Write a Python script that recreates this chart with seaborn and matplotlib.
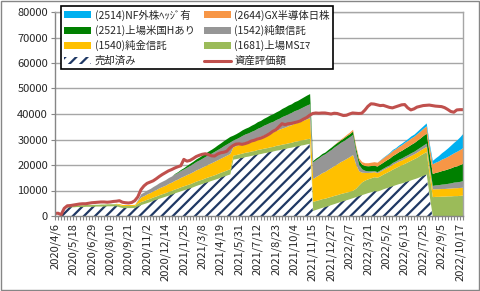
import numpy as np
import pandas as pd
import seaborn as sns
import matplotlib.pyplot as plt

# weekly valuation, 2020/4/6 - 2022/10/24
weeks = pd.date_range("2020-04-06", periods=134, freq="7D")

sold = [0, 0, 0, 3300, 3500, 3600, 3600, 3700, 3700, 3700,
        3800, 3800, 3800, 3900, 3900, 3900, 3900, 4000, 4000, 4000,
        4000, 3600, 3300, 3300, 3300, 3300, 3400, 4000, 4500, 4900,
        5300, 5700, 6200, 6600, 7000, 7400, 7800, 8200, 8600, 9100,
        9500, 9900, 10300, 10700, 11100, 11500, 12000, 12400, 12800, 13200,
        13600, 14000, 14400, 14800, 15300, 15700, 16100, 16500, 22300, 22500,
        22800, 23000, 23300, 23500, 23800, 24000, 24300, 24500, 24800, 25000,
        25300, 25500, 25800, 26000, 26300, 26500, 26800, 27000, 27300, 27500,
        27800, 28000, 28300, 28500, 2200, 2600, 3000, 3400, 3700, 4100,
        4500, 4900, 5300, 5700, 6100, 6400, 6800, 7200, 7600, 8000,
        8400, 8800, 9200, 9500, 9900, 9800, 10200, 10700, 11100, 11500,
        11900, 12300, 12700, 13000, 13400, 13800, 14200, 14600, 15000, 15500,
        16000, 16500, 8000, 0, 0, 0, 0, 0, 0, 0,
        0, 0, 0, 0]

ms_emerging = [0, 0, 0, 400, 600, 600, 600, 600, 700, 700,
               700, 700, 700, 700, 700, 800, 800, 800, 800, 800,
               800, 800, 800, 800, 800, 800, 800, 1100, 1200, 1200,
               1300, 1300, 1300, 1300, 1400, 1400, 1400, 1500, 1500, 1500,
               1500, 1600, 1600, 1600, 1600, 1700, 1700, 1700, 1700, 1800,
               1800, 1800, 1800, 1900, 1900, 1900, 2000, 2000, 1600, 1600,
               1600, 1700, 1700, 1700, 1700, 1700, 1800, 1800, 1800, 1800,
               1800, 1800, 1900, 1900, 1900, 1900, 1900, 1900, 2000, 2000,
               2000, 2000, 2000, 2000, 3500, 3500, 3400, 3400, 3300, 3300,
               3200, 3200, 3100, 3100, 3000, 3000, 2900, 2900, 3300, 4200,
               5000, 5300, 5400, 5500, 5500, 5400, 5600, 5800, 6000, 6200,
               6500, 6700, 6900, 7100, 7300, 7500, 7700, 7900, 8100, 8400,
               8600, 8800, 8000, 7600, 7700, 7700, 7800, 7800, 7900, 7900,
               8000, 8000, 8100, 8200]

gold = [0, 0, 0, 0, 0, 0, 0, 0, 0, 0,
        0, 0, 0, 0, 0, 0, 0, 0, 0, 0,
        200, 400, 400, 400, 400, 400, 400, 1000, 1800, 1900,
        2100, 2200, 2400, 2500, 2700, 2800, 2900, 3100, 3200, 3400,
        3500, 3700, 3800, 4000, 4100, 4200, 4400, 4500, 4700, 4800,
        5000, 5100, 5300, 5400, 5500, 5700, 5800, 6000, 3300, 3500,
        3700, 3900, 4100, 4200, 4400, 4600, 4800, 5000, 5200, 5400,
        5600, 5700, 5900, 6100, 6300, 6500, 6700, 6900, 7100, 7200,
        7400, 7600, 7800, 8000, 9000, 9400, 9800, 10200, 10500, 10900,
        11300, 11700, 12100, 12500, 12800, 13200, 13600, 14000, 9500, 5500,
        3800, 3000, 2500, 2200, 2000, 1800, 1800, 1800, 1800, 1800,
        1900, 1900, 1900, 1900, 1900, 1900, 1900, 1900, 2000, 2000,
        2000, 2000, 2500, 3000, 3000, 3000, 3000, 3000, 3000, 3100,
        3100, 3100, 3100, 3100]

silver = [0, 0, 0, 0, 0, 0, 0, 0, 0, 0,
          0, 0, 0, 0, 0, 0, 0, 0, 0, 0,
          0, 0, 0, 0, 0, 0, 0, 500, 1300, 1400,
          1500, 1600, 1700, 1900, 2000, 2100, 2200, 2300, 2400, 2500,
          2600, 2700, 2800, 2900, 3100, 3200, 3300, 3400, 3500, 3600,
          3700, 3800, 3900, 4000, 4100, 4300, 4400, 4500, 2600, 2700,
          2800, 3000, 3100, 3200, 3300, 3400, 3500, 3600, 3800, 3900,
          4000, 4100, 4200, 4300, 4500, 4600, 4700, 4800, 4900, 5000,
          5100, 5300, 5400, 5500, 6500, 6600, 6700, 6800, 6900, 7000,
          7100, 7300, 7400, 7500, 7600, 7700, 7800, 7900, 5000, 2500,
          1300, 800, 600, 500, 400, 400, 500, 500, 600, 600,
          700, 700, 800, 800, 900, 900, 1000, 1000, 1100, 1100,
          1200, 1300, 1500, 1400, 1500, 1600, 1700, 1800, 1900, 2000,
          2200, 2300, 2400, 2600]

us_hedged = [0, 0, 0, 0, 0, 0, 0, 0, 0, 0,
             0, 0, 0, 0, 0, 0, 0, 0, 0, 0,
             0, 0, 0, 0, 0, 0, 0, 0, 0, 0,
             0, 0, 0, 0, 0, 0, 0, 0, 0, 200,
             300, 400, 500, 700, 800, 900, 1000, 1100, 1200, 1300,
             1400, 1500, 1600, 1800, 1900, 2000, 2100, 2200, 1900, 2000,
             2100, 2200, 2200, 2300, 2400, 2500, 2600, 2600, 2700, 2800,
             2900, 3000, 3000, 3100, 3200, 3300, 3400, 3400, 3500, 3600,
             3700, 3800, 3900, 4000, 500, 600, 600, 700, 700, 800,
             900, 900, 1000, 1000, 1100, 1200, 1200, 1300, 1500, 1700,
             1800, 1900, 2000, 2100, 2100, 2200, 2300, 2400, 2500, 2600,
             2700, 2800, 2900, 3000, 3100, 3200, 3300, 3400, 3500, 3600,
             3800, 3900, 4500, 4700, 4900, 5100, 5300, 5500, 5700, 5900,
             6100, 6300, 6600, 6800]

semicon = [0] * 90 + [
           0, 100, 200, 300, 400, 500, 600, 700, 800, 900,
           1000, 1100, 1200, 1300, 1400, 1500, 1600, 1700, 1800, 1900,
           2000, 2000, 2100, 2200, 2300, 2400, 2500, 2500, 2600, 2700,
           2800, 2900, 3000, 3800, 4000, 4200, 4500, 4700, 4900, 5200,
           5400, 5700, 5900, 6200]

nf_hedged = [0] * 106 + [
             100, 200, 200, 300,
             400, 400, 500, 600, 600, 700, 800, 800, 900, 1000,
             1000, 1100, 1000, 1300, 1700, 2100, 2500, 2900, 3300, 3700,
             4100, 4500, 5000, 5600]

asset_value = [1000, 1100, 500, 3000, 4000, 4100, 4300, 4500, 4700, 4800,
               4800, 5000, 5200, 5300, 5400, 5500, 5500, 5400, 5500, 5700,
               5800, 6000, 5400, 5200, 5100, 5300, 6000, 7500, 10300, 11800,
               12800, 13300, 13800, 14600, 15500, 16300, 17000, 17700, 18200, 18800,
               19300, 19700, 22200, 21500, 21800, 22500, 23300, 23800, 24200, 24400,
               24100, 23600, 23500, 24300, 24800, 25000, 25400, 26700, 27600, 28200,
               28300, 28100, 28400, 28800, 29400, 29700, 30200, 30500, 31000, 31600,
               32300, 33200, 33800, 35000, 36200, 35800, 36200, 36300, 36600, 36900,
               37300, 38000, 38600, 39500, 40200, 40400, 40300, 40400, 40400, 40200,
               40000, 40300, 40200, 39800, 39400, 39500, 40000, 40400, 40300, 40200,
               40300, 41500, 43000, 44000, 43900, 43600, 43300, 43400, 43000, 42600,
               42400, 42800, 43200, 43600, 43700, 42400, 41600, 42000, 42700, 43000,
               43300, 43400, 43500, 43300, 43100, 43000, 42900, 42500, 41800, 41000,
               40700, 41600, 41700, 41700]

labels = ['売却済み', '(1681)上場MSｴﾏ', '(1540)純金信託', '(1542)純銀信託',
          '(2521)上場米国Hあり', '(2644)GX半導体日株', '(2514)NF外株ﾍｯｼﾞ有']
colors = ['white', '#9BBB59', '#FFC000', '#969696', '#008000', '#F79646', '#00B0F0']

sns.set_theme(style="white")
plt.rcParams['font.family'] = ['Noto Sans CJK JP', 'DejaVu Sans']
plt.rcParams['hatch.linewidth'] = 1.6
plt.rcParams['hatch.color'] = '#1F3864'

fig = plt.figure(figsize=(4.8, 2.91), dpi=100)
ax = fig.add_axes([55 / 480, 1 - 216 / 291, 408 / 480, 204 / 291])

polys = ax.stackplot(weeks, sold, ms_emerging, gold, silver, us_hedged, semicon, nf_hedged,
                     colors=colors, labels=labels, linewidth=0)
polys[0].set_hatch('///')
polys[0].set_edgecolor('#1F3864')
polys[0].set_linewidth(0)

sns.lineplot(x=weeks, y=asset_value, color='#C0504D', linewidth=2.2, ax=ax, label='資産評価額')
line = ax.get_lines()[-1]

ax.set_xlim(weeks[0], weeks[-1])
ax.set_ylim(0, 80000)
ax.set_yticks(range(0, 80001, 10000))
ax.yaxis.grid(True, color='#A6A6A6', linewidth=1)
ax.set_axisbelow(True)

major = weeks[::6]
ax.set_xticks(major)
ax.set_xticklabels([f"{d.year}/{d.month}/{d.day}" for d in major], rotation=90)
ax.set_xticks(weeks, minor=True)
ax.tick_params(axis='x', which='both', direction='out', length=3, color='#868686',
               width=0.8, bottom=True, labelsize=8, pad=2)
ax.tick_params(axis='y', which='major', direction='out', length=3, color='#868686',
               width=0.8, left=True, labelsize=8, pad=2)
for s in ax.spines.values():
    s.set_color('#A6A6A6')
    s.set_linewidth(1)
ax.spines['left'].set_color('#868686')
ax.spines['bottom'].set_color('#868686')
ax.set_xlabel('')
ax.set_ylabel('')
if ax.get_legend():
    ax.get_legend().remove()

order = [6, 4, 2, 0, 5, 3, 1]
handles = [polys[i] for i in order] + [line]
names = [labels[i] for i in order] + ['資産評価額']
leg = fig.legend(handles, names, loc='upper left', bbox_to_anchor=(56 / 480, 1 - 1 / 291),
                 ncol=2, fontsize=7.5, frameon=True, fancybox=False, framealpha=1,
                 edgecolor='black', handlelength=2.6, handleheight=0.6,
                 columnspacing=0.9, labelspacing=0.42, borderpad=0.3, handletextpad=0.3)
leg.get_frame().set_linewidth(1.2)

fig.patches.append(plt.Rectangle((0.002, 0.003), 0.995, 0.994, transform=fig.transFigure,
                                 fill=False, edgecolor='#868686', linewidth=1))

fig.savefig('out.png', dpi=100)
